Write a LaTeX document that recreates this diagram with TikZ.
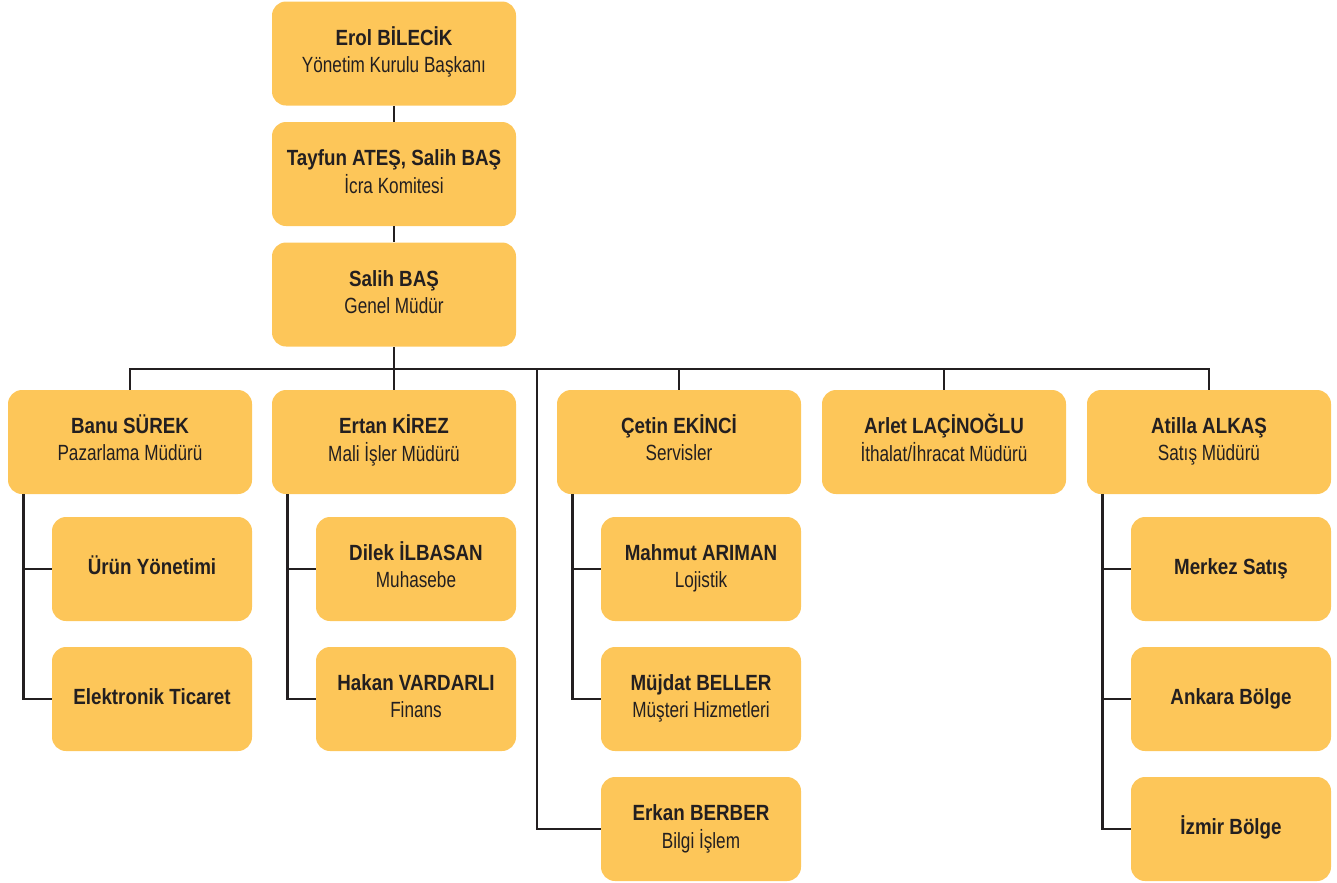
\documentclass[tikz,border=0pt]{standalone}
\usepackage{fontspec}
\setmainfont{Liberation Sans}[FakeStretch=0.78]
\newfontfamily\kalin{Liberation Sans Bold}[FakeStretch=0.854]
\usepackage{tikz}
\definecolor{kutu}{HTML}{FDC659}
\definecolor{cizgi}{HTML}{231F20}
\newcommand{\kisi}[2]{{\kalin #1\strut}\\#2\strut}
\newcommand{\tek}[1]{{\kalin #1\strut}}

\begin{document}
\begin{tikzpicture}[x=0.75pt, y=-0.75pt,
		birim/.style={fill=kutu, rounded corners=10.5pt, minimum width=183pt, minimum height=78pt, align=center, text=cizgi, font=\fontsize{16.5}{20.2}\selectfont, inner sep=0pt},
		alt/.style={birim, minimum width=150pt},
		hat/.style={draw=cizgi, line width=2.2pt}]
				\useasboundingbox (0, 0) rectangle (1337, 882);
				\node [birim] (erol) at (394, 53.5) {\kisi{Erol BİLECİK}{Yönetim Kurulu Başkanı}};
				\node [birim] (icra) at (394, 174) {\kisi{Tayfun ATEŞ, Salih BAŞ}{İcra Komitesi}};
				\node [birim] (genel) at (394, 294.5) {\kisi{Salih BAŞ}{Genel Müdür}};
				\node [birim] (banu) at (130, 442) {\kisi{Banu SÜREK}{Pazarlama Müdürü}};
				\node [birim] (ertan) at (394, 442) {\kisi{Ertan KİREZ}{Mali İşler Müdürü}};
				\node [birim] (cetin) at (679, 442) {\kisi{Çetin EKİNCİ}{Servisler}};
				\node [birim] (arlet) at (944, 442) {\kisi{Arlet LAÇİNOĞLU}{İthalat/İhracat Müdürü}};
				\node [birim] (atilla) at (1209, 442) {\kisi{Atilla ALKAŞ}{Satış Müdürü}};
				\node [alt] (urun) at (152, 569) {\tek{Ürün Yönetimi}};
				\node [alt] (eticaret) at (152, 699) {\tek{Elektronik Ticaret}};
				\node [alt] (dilek) at (416, 569) {\kisi{Dilek İLBASAN}{Muhasebe}};
				\node [alt] (hakan) at (416, 699) {\kisi{Hakan VARDARLI}{Finans}};
				\node [alt] (mahmut) at (701, 569) {\kisi{Mahmut ARIMAN}{Lojistik}};
				\node [alt] (mujdat) at (701, 699) {\kisi{Müjdat BELLER}{Müşteri Hizmetleri}};
				\node [alt] (erkan) at (701, 829) {\kisi{Erkan BERBER}{Bilgi İşlem}};
				\node [alt] (merkez) at (1231, 569) {\tek{Merkez Satış}};
				\node [alt] (ankara) at (1231, 699) {\tek{Ankara Bölge}};
				\node [alt] (izmir) at (1231, 829) {\tek{İzmir Bölge}};
				\coordinate (bus) at (394, 369);
				\coordinate (erkanbus) at (537, 369);
				\coordinate (banuhat) at ([xshift=12pt]banu.south west);
				\coordinate (ertanhat) at ([xshift=12pt]ertan.south west);
				\coordinate (cetinhat) at ([xshift=12pt]cetin.south west);
				\coordinate (atillahat) at ([xshift=12pt]atilla.south west);
				\draw [hat] (erol) -- (icra);
				\draw [hat] (icra) -- (genel);
				\draw [hat] (genel) -- (bus);
				\draw [hat] (banu.north) -- (banu.north |- bus) -- (atilla.north |- bus) -- (atilla.north);
				\draw [hat] (ertan.north) -- (bus);
				\draw [hat] (cetin.north) -- (cetin.north |- bus);
				\draw [hat] (arlet.north) -- (arlet.north |- bus);
				\draw [hat] (erkanbus) |- (erkan.west);
				\draw [hat] (banuhat) |- (eticaret.west);
				\draw [hat] (urun.west) -- (banuhat |- urun.west);
				\draw [hat] (ertanhat) |- (hakan.west);
				\draw [hat] (dilek.west) -- (ertanhat |- dilek.west);
				\draw [hat] (cetinhat) |- (mujdat.west);
				\draw [hat] (mahmut.west) -- (cetinhat |- mahmut.west);
				\draw [hat] (atillahat) |- (izmir.west);
				\draw [hat] (merkez.west) -- (atillahat |- merkez.west);
				\draw [hat] (ankara.west) -- (atillahat |- ankara.west);
\end{tikzpicture}
\end{document}
